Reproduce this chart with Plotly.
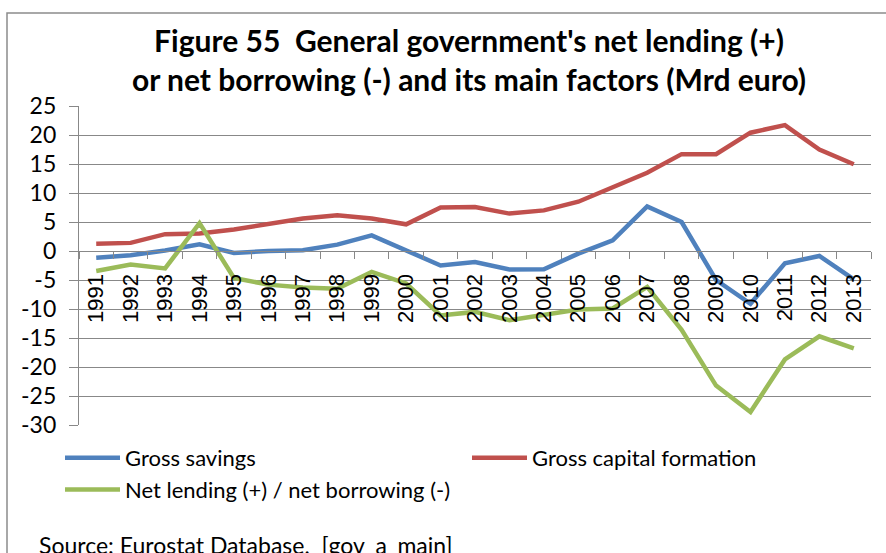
import plotly.graph_objects as go

# Annual series, Mrd euro
years = [str(y) for y in range(1991, 2014)]
gross_savings = [-1.15, -0.75, 0.1, 1.15, -0.35, 0.0, 0.15, 1.1, 2.7, 0.0,
                 -2.5, -1.9, -3.2, -3.15, -0.45, 1.85, 7.7, 5.0, -5.0, -9.1,
                 -2.1, -0.85, -4.9]
gross_capital_formation = [1.25, 1.4, 2.9, 3.0, 3.7, 4.6, 5.6, 6.15, 5.6, 4.6,
                           7.5, 7.6, 6.45, 7.0, 8.5, 11.0, 13.5, 16.7, 16.7, 20.4,
                           21.7, 17.5, 14.95]
net_lending = [-3.45, -2.35, -3.0, 4.8, -4.65, -5.8, -6.3, -6.5, -3.6, -5.6,
               -11.1, -10.5, -11.95, -11.1, -10.1, -9.9, -6.2, -13.6, -23.2, -27.75,
               -18.7, -14.7, -16.8]

y_tick_vals = list(range(-30, 30, 5))
y_tick_text = [str(v) for v in y_tick_vals]

W, H = 886, 553
ML, MR, MT, MB = 79, 15, 106, 128
PW, PH = W - ML - MR, H - MT - MB
Y_MIN, Y_MAX = -30, 25


def px_x(px):
    return (px - ML) / PW


def px_y(py):
    return (H - MB - py) / PH


GRID = "#888888"
BODY_FONT = "Lato"

fig = go.Figure()
series = [
    ("Gross savings", gross_savings, "#4F81BD"),
    ("Gross capital formation", gross_capital_formation, "#C0504D"),
    ("Net lending (+) / net borrowing (-)", net_lending, "#9BBB59"),
]
for name, vals, color in series:
    fig.add_trace(go.Scatter(
        x=years, y=vals, name=name, mode="lines",
        line=dict(color=color, width=4.5),
    ))

fig.update_layout(
    width=W, height=H,
    margin=dict(l=ML, r=MR, t=MT, b=MB),
    paper_bgcolor="white", plot_bgcolor="white",
    font=dict(family=BODY_FONT, color="black"),
    title=dict(
        text="Figure 55 \u00a0General government's net lending (+)<br>"
             "or net borrowing (-) and its main factors (Mrd euro)",
        font=dict(family=BODY_FONT, size=30, color="black", weight="bold"),
        x=469 / W, xanchor="center", xref="container",
        y=1 - 52 / H, yanchor="top", yref="container",
    ),
    xaxis=dict(
        type="category",
        range=[-0.5, len(years) - 0.5],
        anchor="free",
        position=(0 - Y_MIN) / (Y_MAX - Y_MIN),
        showline=True, linecolor=GRID, linewidth=1.3,
        showgrid=False,
        ticks="outside", tickson="boundaries", ticklen=7, tickcolor=GRID,
        tickwidth=1.3,
        tickangle=-90,
        ticklabelstandoff=13,
        tickfont=dict(family="Liberation Sans", size=22, color="black"),
    ),
    yaxis=dict(
        range=[Y_MIN, Y_MAX],
        tickvals=y_tick_vals, ticktext=y_tick_text,
        showline=True, linecolor=GRID, linewidth=1.3,
        showgrid=True, gridcolor=GRID, gridwidth=1.3,
        zeroline=False,
        ticks="outside", ticklen=9, tickcolor=GRID, tickwidth=1.3,
        ticklabelstandoff=8,
        tickfont=dict(family=BODY_FONT, size=23, color="black"),
    ),
    legend=dict(
        orientation="h",
        x=px_x(60), xanchor="left",
        y=px_y(437), yanchor="top",
        itemwidth=55,
        entrywidth=337, entrywidthmode="pixels",
        font=dict(family=BODY_FONT, size=22, color="black"),
        bgcolor="rgba(0,0,0,0)",
        traceorder="normal",
    ),
    showlegend=True,
)

fig.add_annotation(
    text="Source: Eurostat Database, \u00a0[gov_a_main]",
    xref="paper", yref="paper",
    x=px_x(37), y=px_y(545), xanchor="left", yanchor="middle",
    showarrow=False,
    font=dict(family=BODY_FONT, size=23, color="black"),
)

# Outer chart frame
fig.add_shape(
    type="rect", xref="paper", yref="paper",
    x0=px_x(7), x1=px_x(W + 5), y0=px_y(H + 5), y1=px_y(13),
    line=dict(color="#8c8c8c", width=1.5), fillcolor="rgba(0,0,0,0)",
    layer="below",
)

fig.write_html("out.html")
